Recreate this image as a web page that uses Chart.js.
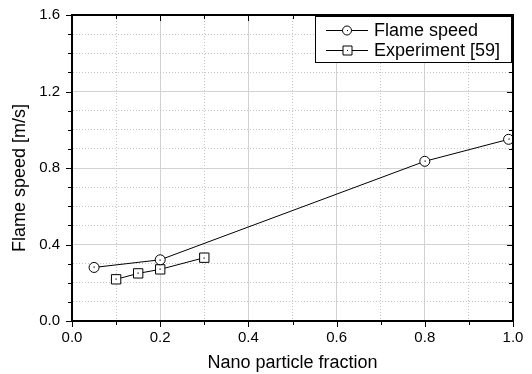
<!DOCTYPE html>
<html>
<head>
<meta charset="utf-8">
<script src="https://cdn.jsdelivr.net/npm/chart.js@4.4.1/dist/chart.umd.min.js"></script>
<style>
html,body{margin:0;padding:0;background:#fff;}
</style>
</head>
<body>
<canvas id="myChart" width="532" height="374"></canvas>
<script>
// data
var flameX=[0.05,0.2,0.8,0.99];
var flameY=[0.28,0.32,0.835,0.95];
var expX=[0.1,0.15,0.2,0.3];
var expY=[0.218,0.249,0.27,0.331];
var xTicks=[0.0,0.2,0.4,0.6,0.8,1.0];
var yTicks=[0.0,0.4,0.8,1.2,1.6];

var fnt='"Liberation Sans", Arial, sans-serif';
Chart.defaults.color='#000';
Chart.defaults.font.family=fnt;

function pts(xs,ys){
	var r=[];
	for(var i=0;i<xs.length;i++){r.push({x:xs[i],y:ys[i]});}
	return r;
}
function inList(v,list){
	for(var i=0;i<list.length;i++){if(Math.abs(v-list[i])<1e-6)return true;}
	return false;
}

// ticks: left/bottom outward, top/right inward, plus top/right frame
var frameTicks={
	id:'frameTicks',
	afterDatasetsDraw:function(chart){
		var c=chart.ctx,a=chart.chartArea,sx=chart.scales.x,sy=chart.scales.y;
		c.save();
		c.strokeStyle='#000';
		c.lineWidth=1;
		c.beginPath();
		sx.ticks.forEach(function(t){
			var p=Math.round(sx.getPixelForValue(t.value))+0.5;
			var len=inList(t.value,xTicks)?6:4;
			c.moveTo(p,a.bottom);c.lineTo(p,a.bottom+len);
			c.moveTo(p,a.top);c.lineTo(p,a.top+len);
		});
		sy.ticks.forEach(function(t){
			var p=Math.round(sy.getPixelForValue(t.value))+0.5;
			var len=inList(t.value,yTicks)?6:4;
			c.moveTo(a.left-len,p);c.lineTo(a.left,p);
			c.moveTo(a.right-len,p);c.lineTo(a.right,p);
		});
		c.stroke();
		c.lineWidth=2;
		c.beginPath();
		c.moveTo(a.left,a.top);c.lineTo(a.right,a.top);c.lineTo(a.right,a.bottom);
		c.stroke();
		// little dots in the middle of every marker
		c.fillStyle='#000';
		chart.data.datasets.forEach(function(ds,i){
			chart.getDatasetMeta(i).data.forEach(function(el){
				c.fillRect(Math.round(el.x)-0.5,Math.round(el.y)-0.5,1.2,1.2);
			});
		});
		c.restore();
	}
};

// boxed legend in the upper right corner of the plot
var boxLegend={
	id:'boxLegend',
	afterDraw:function(chart){
		var c=chart.ctx,a=chart.chartArea;
		var bx=a.left+243,by=a.top+1,bw=196,bh=46;
		c.save();
		c.fillStyle='#fff';
		c.fillRect(bx,by,bw,bh);
		c.strokeStyle='#000';
		c.lineWidth=1;
		c.strokeRect(bx+0.5,by+0.5,bw,bh);
		chart.data.datasets.forEach(function(ds,i){
			var y=by+14+i*20;
			var lx=bx+11;
			c.beginPath();
			c.moveTo(lx,y+0.5);c.lineTo(lx+42,y+0.5);
			c.stroke();
			c.fillStyle='#fff';
			c.beginPath();
			if(ds.pointStyle==='rect'){c.rect(lx+17,y-4,9,9);}
			else{c.arc(lx+21,y+0.5,4.5,0,Math.PI*2);}
			c.fill();c.stroke();
			c.fillStyle='#000';
			c.fillRect(lx+21,y,1,1);
			c.font='18px '+fnt;
			c.textBaseline='middle';
			c.textAlign='left';
			c.fillText(ds.label,lx+48,y+1);
		});
		c.restore();
	}
};

var ctx=document.getElementById('myChart').getContext('2d');
var myChart=new Chart(ctx,{
	type:'scatter',
	data:{
		datasets:[
			{
				label:'Flame speed',
				data:pts(flameX,flameY),
				showLine:true,
				borderColor:'#000',
				borderWidth:1,
				pointStyle:'circle',
				pointRadius:5,
				pointBackgroundColor:'#fff',
				pointBorderColor:'#000',
				pointBorderWidth:1
			},{
				label:'Experiment [59]',
				data:pts(expX,expY),
				showLine:true,
				borderColor:'#000',
				borderWidth:1,
				pointStyle:'rect',
				pointRadius:6.6,
				pointBackgroundColor:'#fff',
				pointBorderColor:'#000',
				pointBorderWidth:1
			}
		]
	},
	options:{
		responsive:false,
		animation:false,
		devicePixelRatio:1,
		layout:{padding:{left:0,right:19,top:15,bottom:0}},
		plugins:{legend:{display:false},tooltip:{enabled:false}},
		scales:{
			x:{
				type:'linear',
				min:0,max:1,
				afterFit:function(s){s.height=53;},
				ticks:{
					stepSize:0.1,autoSkip:false,maxRotation:0,padding:3,
					font:{size:15},
					callback:function(v){return inList(v,xTicks)?v.toFixed(1):'';}
				},
				grid:{
					tickLength:5,
					tickColor:'rgba(0,0,0,0)',
					color:function(c){return c.tick&&inList(c.tick.value,xTicks)?'#d2d2d2':'#c4c4c4';}
				},
				border:{
					display:true,color:'#000',width:2,
					dash:function(c){return c.tick&&!inList(c.tick.value,xTicks)?[1,2]:[];}
				},
				title:{display:true,text:'Nano particle fraction',font:{size:18},padding:{top:0,bottom:0}}
			},
			y:{
				type:'linear',
				min:0,max:1.6,
				afterFit:function(s){s.width=72;},
				ticks:{
					stepSize:0.1,autoSkip:false,padding:6,
					font:{size:15},
					callback:function(v){return inList(v,yTicks)?v.toFixed(1):'';}
				},
				grid:{
					tickLength:6,
					tickColor:'rgba(0,0,0,0)',
					color:function(c){return c.tick&&inList(c.tick.value,yTicks)?'#d2d2d2':'#c4c4c4';}
				},
				border:{
					display:true,color:'#000',width:2,
					dash:function(c){return c.tick&&!inList(c.tick.value,yTicks)?[1,2]:[];}
				},
				title:{display:true,text:'Flame speed [m/s]    ',font:{size:18},padding:{top:9,bottom:0}}
			}
		}
	},
	plugins:[frameTicks,boxLegend]
});
</script>
</body>
</html>
